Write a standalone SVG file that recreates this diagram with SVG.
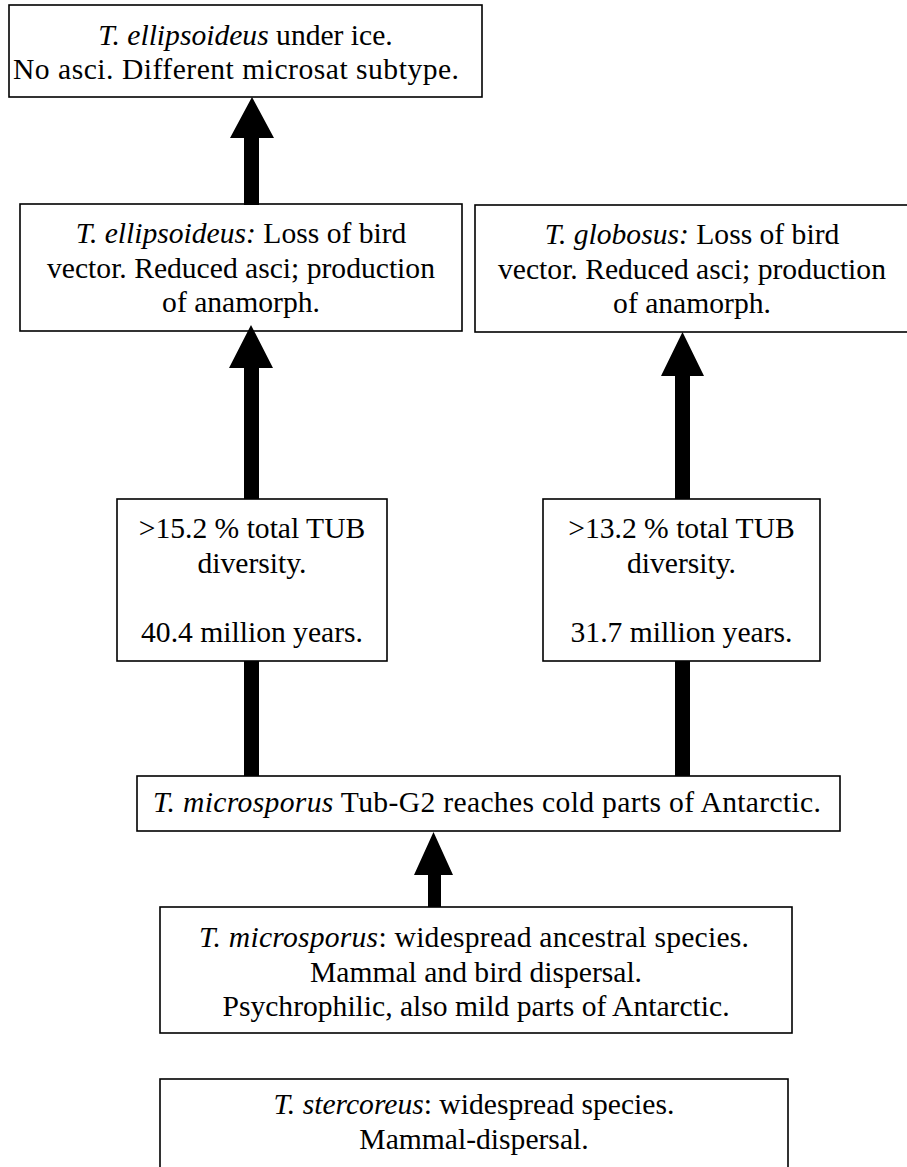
<svg xmlns="http://www.w3.org/2000/svg" width="907" height="1167" viewBox="0 0 907 1167">
<style>
.box{fill:#fff;stroke:#000;stroke-width:1.6}
text{font-family:"Liberation Serif","Times New Roman",serif;font-size:29.6px;fill:#000;text-anchor:middle}
.i{font-style:italic}
.arr{fill:#000;stroke:none}
</style>
<rect width="907" height="1167" fill="#fff"/>
<g id="n1">
<rect class="box" x="9" y="5" width="473" height="92"/>
<text x="245.5" y="44.5"><tspan class="i">T. ellipsoideus</tspan> under ice.</text>
<text x="236" y="79" textLength="446" lengthAdjust="spacing">No asci. Different microsat subtype.</text>
</g>
<g id="n2">
<rect class="box" x="20" y="204" width="442" height="127"/>
<text x="241" y="243"><tspan class="i">T. ellipsoideus:</tspan> Loss of bird</text>
<text x="241" y="277.5">vector. Reduced asci; production</text>
<text x="241" y="312">of anamorph.</text>
</g>
<g id="n3">
<rect class="box" x="475" y="205" width="435" height="127"/>
<text x="692" y="244"><tspan class="i">T. globosus:</tspan> Loss of bird</text>
<text x="692" y="278.5">vector. Reduced asci; production</text>
<text x="692" y="313">of anamorph.</text>
</g>
<g id="n4">
<rect class="box" x="117" y="499" width="270" height="162"/>
<text x="252" y="538">&gt;15.2 % total TUB</text>
<text x="252" y="572.5">diversity.</text>
<text x="252" y="641.5">40.4 million years.</text>
</g>
<g id="n5">
<rect class="box" x="543" y="499" width="277" height="162"/>
<text x="681.5" y="538">&gt;13.2 % total TUB</text>
<text x="681.5" y="572.5">diversity.</text>
<text x="681.5" y="641.5">31.7 million years.</text>
</g>
<g id="n6">
<rect class="box" x="137" y="776" width="703" height="55"/>
<text x="487" y="812" textLength="668" lengthAdjust="spacing"><tspan class="i">T. microsporus</tspan> Tub-G2 reaches cold parts of Antarctic.</text>
</g>
<g id="n7">
<rect class="box" x="160" y="907" width="632" height="126"/>
<text x="474" y="947" textLength="550" lengthAdjust="spacing"><tspan class="i">T. microsporus</tspan>: widespread ancestral species.</text>
<text x="476" y="981.5">Mammal and bird dispersal.</text>
<text x="476" y="1016">Psychrophilic, also mild parts of Antarctic.</text>
</g>
<g id="n8">
<rect class="box" x="160" y="1079" width="628" height="110"/>
<text x="474" y="1114"><tspan class="i">T. stercoreus</tspan>: widespread species.</text>
<text x="474" y="1148.5">Mammal-dispersal.</text>
</g>
<g id="connectors">
<path class="arr" d="M244,205 L244,138 L230,138 L252,97 L274,138 L259,138 L259,205 Z"/>
<path class="arr" d="M244,499 L244,368 L229,368 L251,325 L273,368 L259,368 L259,499 Z"/>
<path class="arr" d="M675,499 L675,376 L661,376 L682.5,332 L704,376 L690,376 L690,499 Z"/>
<rect class="arr" x="244" y="661" width="15" height="115"/>
<rect class="arr" x="675" y="661" width="15" height="115"/>
<path class="arr" d="M428,907 L428,875 L414,875 L433.5,832 L453,875 L441,875 L441,907 Z"/>
</g>
</svg>
